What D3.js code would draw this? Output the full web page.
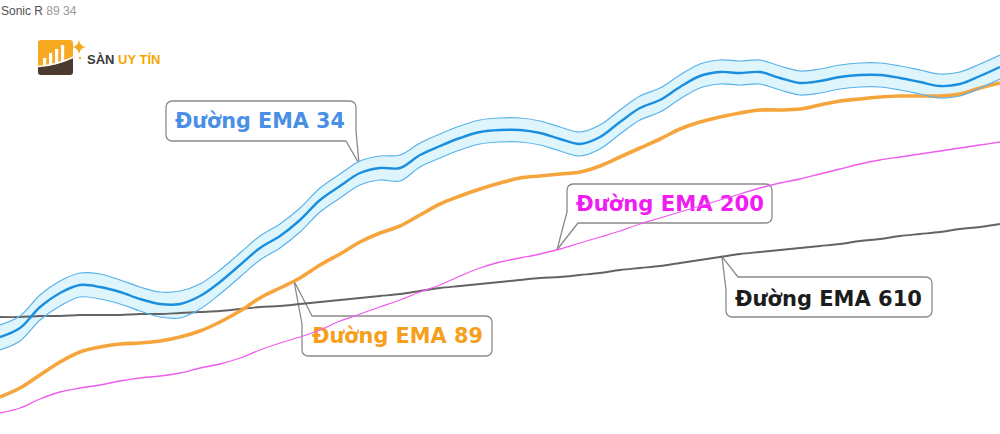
<!DOCTYPE html>
<html><head><meta charset="utf-8">
<script src="https://cdn.jsdelivr.net/npm/d3@7"></script>
<style>body{margin:0;background:#fff;} svg{display:block}</style>
</head><body>
<svg id="c" width="1000" height="434"></svg>
<script>
// ---- data (price units, one value per bar) ----
const ema34 = [109.7,110.6,112.7,114.1,114.9,114.7,114.2,113.5,113.0,113.0,113.8,115.2,116.9,118.6,119.8,121.4,123.4,124.8,126.1,126.6,126.6,127.9,128.8,129.6,130.2,130.4,130.4,130.1,129.5,129.0,129.7,131.2,132.6,133.4,134.7,135.8,136.2,136.1,136.2,135.6,135.1,135.3,135.7,135.9,135.9,135.6,135.2,134.8,135.0,135.8,136.7];
const ema34High = [110.9,111.8,113.9,115.3,116.1,116.0,115.4,114.7,114.2,114.3,115.0,116.4,118.1,119.8,121.0,122.6,124.6,126.0,127.3,127.8,127.9,129.1,130.0,130.8,131.4,131.6,131.6,131.3,130.7,130.2,130.9,132.4,133.8,134.6,135.9,137.0,137.4,137.3,137.4,136.8,136.3,136.5,136.9,137.1,137.1,136.8,136.4,136.0,136.2,137.0,137.9];
const ema34Low = [108.4,109.3,111.4,112.8,113.7,113.5,113.0,112.3,111.7,111.6,112.5,114.0,115.7,117.4,118.6,120.2,122.2,123.6,124.9,125.4,125.3,126.7,127.6,128.4,129.0,129.2,129.2,128.9,128.3,127.8,128.5,130.0,131.4,132.2,133.5,134.6,135.0,134.9,135.0,134.4,133.9,134.1,134.5,134.7,134.7,134.4,134.0,133.6,133.8,134.6,135.5];
const ema89 = [103.7,104.6,105.9,107.2,108.2,108.7,109.0,109.1,109.3,109.7,110.3,111.2,112.3,113.6,114.6,115.6,116.9,118.0,119.2,120.1,120.8,121.9,123.0,123.8,124.5,125.1,125.6,125.8,126.0,126.2,126.8,127.7,128.6,129.5,130.5,131.2,131.7,132.1,132.4,132.4,132.5,132.9,133.3,133.5,133.7,133.8,133.8,133.8,134.0,134.6,135.1];
const ema200 = [102.1,102.6,103.5,104.2,104.6,104.9,105.3,105.6,105.8,106.1,106.6,107.0,107.6,108.4,109.1,109.7,110.4,111.3,112.0,112.7,113.4,114.2,114.9,115.8,116.6,117.2,117.6,118.0,118.5,119.1,119.7,120.3,121.0,121.6,122.2,122.8,123.4,124.0,124.6,125.1,125.5,126.0,126.5,127.0,127.4,127.7,128.0,128.3,128.6,128.9,129.2];
const ema610 = [111.7,111.7,111.8,111.8,111.9,111.9,111.9,112.0,112.0,112.1,112.2,112.3,112.5,112.7,112.8,113.0,113.2,113.4,113.6,113.8,114.0,114.3,114.6,114.8,115.0,115.2,115.4,115.6,115.7,115.9,116.1,116.4,116.6,116.8,117.1,117.4,117.7,118.0,118.2,118.4,118.6,118.8,119.0,119.3,119.5,119.8,120.0,120.2,120.5,120.7,121.0];
const labels = ["Đường EMA 34","Đường EMA 89","Đường EMA 200","Đường EMA 610"];
const titleMain = "Sonic R";
const titleSub = "89 34";
const brandA = "SÀN";
const brandB = "UY TÍN";
const bars = d3.range(ema34.length);

// ---- setup ----
const W = 1000, H = 434;
const svg = d3.select("#c");
const x = d3.scaleLinear().domain([0, bars.length - 1]).range([0, W]);
const y = d3.scaleLinear().domain([100, 143.4]).range([H, 0]);
const valueAt = (arr, i) => { const a = Math.floor(i), b = Math.min(a + 1, arr.length - 1), t = i - a; return arr[a] * (1 - t) + arr[b] * t; };
const curve = d3.curveCatmullRom.alpha(0.5);
const line = arr => d3.line().x((d, i) => x(i)).y(d => y(d)).curve(curve)(arr);

// ---- callouts (boxes behind lines) ----
const gBox = svg.append("g");
function callout(b, tail, tip, text, color, tx, ty, tw) {
  const {x0, y0, x1, y1} = b, r = 6;
  const p = d3.path();
  if (tail.corner === "br") {
    p.moveTo(x0 + r, y0); p.lineTo(x1 - r, y0); p.arcTo(x1, y0, x1, y0 + r, r);
    p.lineTo(x1, tail.a); p.lineTo(tip[0], tip[1]); p.lineTo(tail.b, y1);
    p.lineTo(x0 + r, y1); p.arcTo(x0, y1, x0, y1 - r, r); p.lineTo(x0, y0 + r); p.arcTo(x0, y0, x0 + r, y0, r);
  } else if (tail.corner === "tl") {
    p.moveTo(tail.b, y0); p.lineTo(x1 - r, y0); p.arcTo(x1, y0, x1, y0 + r, r);
    p.lineTo(x1, y1 - r); p.arcTo(x1, y1, x1 - r, y1, r); p.lineTo(x0 + r, y1); p.arcTo(x0, y1, x0, y1 - r, r);
    p.lineTo(x0, tail.a); p.lineTo(tip[0], tip[1]); p.lineTo(tail.b, y0);
  } else if (tail.corner === "bl") {
    p.moveTo(x0 + r, y0); p.lineTo(x1 - r, y0); p.arcTo(x1, y0, x1, y0 + r, r);
    p.lineTo(x1, y1 - r); p.arcTo(x1, y1, x1 - r, y1, r); p.lineTo(tail.b, y1); p.lineTo(tip[0], tip[1]);
    p.lineTo(x0, tail.a); p.lineTo(x0, y0 + r); p.arcTo(x0, y0, x0 + r, y0, r);
  }
  p.closePath();
  gBox.append("path").attr("d", p.toString()).attr("fill", "#fff").attr("stroke", "#8a8a8a").attr("stroke-width", 1.3).attr("stroke-linejoin", "round");
  const t = gBox.append("text").attr("x", tx).attr("y", ty).text(text)
    .attr("font-family", "DejaVu Sans").attr("font-weight", "bold").attr("font-size", 20).attr("fill", color);
  const len = t.node().getComputedTextLength();
  t.attr("font-size", 20 * tw / len);
}
callout({x0:166, y0:101, x1:356, y1:141}, {corner:"br", a:131, b:346}, [x(17.95), y(valueAt(ema34High, 17.95)) + 2], labels[0], "#4a8fe6", 175, 128, 170);
callout({x0:302, y0:316, x1:492, y1:356}, {corner:"tl", a:324, b:312}, [x(14.7), y(valueAt(ema89, 14.7))], labels[1], "#f59f1c", 312, 343, 171);
callout({x0:567, y0:184, x1:772, y1:223}, {corner:"bl", a:212, b:578}, [x(27.85), y(valueAt(ema200, 27.85))], labels[2], "#f21bf2", 576, 211, 188);
callout({x0:726, y0:277, x1:932, y1:317}, {corner:"tl", a:290, b:738}, [x(36.1), y(valueAt(ema610, 36.1))], labels[3], "#1c1c1c", 735, 306, 187);

// ---- series ----
const gL = svg.append("g");
const area = d3.area().x((d, i) => x(i)).y0((d, i) => y(ema34Low[i])).y1(d => y(d)).curve(curve);
gL.append("path").attr("d", area(ema34High)).attr("fill", "#dcf4fc").attr("opacity", 0.95);
gL.append("path").attr("d", line(ema610)).attr("fill", "none").attr("stroke", "#636363").attr("stroke-width", 1.9);
gL.append("path").attr("d", line(ema200)).attr("fill", "none").attr("stroke", "#ee5cee").attr("stroke-width", 1.3);
gL.append("path").attr("d", line(ema89)).attr("fill", "none").attr("stroke", "#f6a53c").attr("stroke-width", 3.6);
gL.append("path").attr("d", line(ema34High)).attr("fill", "none").attr("stroke", "#5ab2ea").attr("stroke-width", 1.2);
gL.append("path").attr("d", line(ema34Low)).attr("fill", "none").attr("stroke", "#5ab2ea").attr("stroke-width", 1.2);
gL.append("path").attr("d", line(ema34)).attr("fill", "none").attr("stroke", "#1a8fe0").attr("stroke-width", 2.4);

// ---- title ----
const tt = svg.append("text").attr("x", 1).attr("y", 15).attr("font-family", "Liberation Sans, Arial").attr("font-size", 12);
tt.append("tspan").attr("fill", "#505050").text(titleMain + " ");
tt.append("tspan").attr("fill", "#9a9a9a").text(titleSub);

// ---- logo ----
const lg = svg.append("g");
lg.append("rect").attr("x", 38).attr("y", 40).attr("width", 35).attr("height", 34).attr("rx", 3).attr("fill", "#f7a922");
[[43,58],[49,53],[55,49],[61,45]].forEach(([bx, by]) => lg.append("rect").attr("x", bx).attr("y", by).attr("width", 3.2).attr("height", 66 - by).attr("fill", "#fff"));
lg.append("path").attr("d", "M38,67 Q56,66 73,58 L73,72 Q73,75 70,75 L41,75 Q38,75 38,72 Z").attr("fill", "#4a3a30");
lg.append("path").attr("d", "M38,66.5 Q56,65.5 76,56").attr("fill", "none").attr("stroke", "#fff").attr("stroke-width", 1.5);
lg.append("path").attr("d", "M79,40 Q80,46 86,47 Q80,48 79,54 Q78,48 72,47 Q78,46 79,40 Z").attr("fill", "#f7a922");
lg.append("circle").attr("cx", 80).attr("cy", 58).attr("r", 1.2).attr("fill", "#f7a922");
const bt = svg.append("text").attr("x", 87).attr("y", 64).attr("font-family", "Liberation Sans, Arial").attr("font-weight", "bold").attr("font-size", 13);
bt.append("tspan").attr("fill", "#3a3a3a").text(brandA + " ");
bt.append("tspan").attr("fill", "#f5a800").text(brandB);
</script>
</body></html>
